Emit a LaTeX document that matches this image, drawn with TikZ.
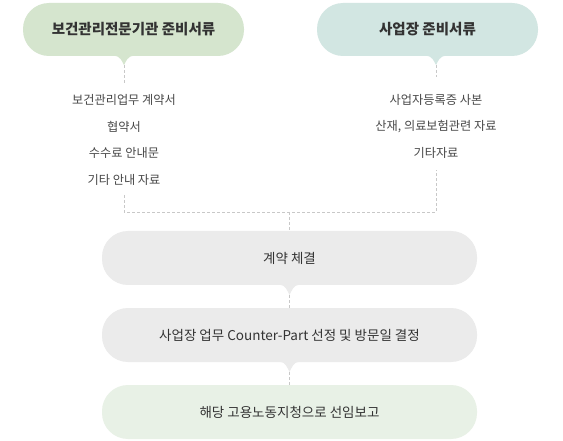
\documentclass[tikz,border=0pt]{standalone}
\usepackage{fontspec}
\setmainfont{Noto Sans CJK KR}
\usetikzlibrary{positioning}
\definecolor{pillA}{HTML}{D5E5CE}
\definecolor{pillB}{HTML}{D2E6E2}
\definecolor{pillG}{HTML}{EBEBEB}
\definecolor{pillE}{HTML}{E8F1E6}
\definecolor{titletxt}{HTML}{333333}
\definecolor{itemtxt}{HTML}{484848}
\definecolor{dashcol}{HTML}{C8C8C8}
\tikzset{
  pill/.style={rounded corners=26pt, minimum height=53pt, inner sep=0pt},
  toppill/.style={pill, minimum width=221pt, font=\fontsize{14.5}{16}\selectfont\bfseries, text=titletxt},
  steppill/.style={pill, minimum width=375pt, minimum height=54pt, font=\fontsize{13.5}{15}\selectfont, text=titletxt},
  itemtxtstyle/.style={font=\fontsize{12.2}{14}\selectfont, text=itemtxt, inner sep=2pt},
  dashline/.style={draw=dashcol, line width=0.8pt, dash pattern=on 3pt off 2pt},
}
\newcommand{\pointer}[4]{% x, y(bottom), color, depth
  \fill[#3] (#1-10,#2+0.5) .. controls (#1-4,#2) and (#1-2,#2-#4+4) .. (#1,#2-#4)
     .. controls (#1+2,#2-#4+4) and (#1+4,#2) .. (#1+10,#2+0.5) -- cycle;}
\begin{document}
\begin{tikzpicture}[x=1pt,y=1pt]
\useasboundingbox (0,0) rectangle (563,-441);
\fill[white] (0,0) rectangle (563,-441);

% top pills
\node[toppill, fill=pillA] (A) at (133.5,-29.5) {보건관리전문기관 준비서류};
\node[toppill, fill=pillB] (B) at (427.5,-29.5) {사업장 준비서류};
\pointer{124}{-56}{pillA}{9}
\pointer{436}{-56}{pillB}{9}
\coordinate (tA) at (124,-65);
\coordinate (tB) at (436,-65);

% item lists
\node[itemtxtstyle] (L1) at (124,-100) {보건관리업무 계약서};
\node[itemtxtstyle] (L2) at (124,-126.5) {협약서};
\node[itemtxtstyle] (L3) at (124,-153) {수수료 안내문};
\node[itemtxtstyle] (L4) at (124,-179.5) {기타 안내 자료};
\node[itemtxtstyle] (R1) at (436,-100) {사업자등록증 사본};
\node[itemtxtstyle] (R2) at (436,-126.5) {산재, 의료보험관련 자료};
\node[itemtxtstyle] (R3) at (436,-153) {기타자료};

% steps
\node[steppill, fill=pillG] (C) at (289.5,-258) {계약 체결};
\node[steppill, fill=pillG] (D) at (289.5,-335) {사업장 업무 Counter-Part 선정 및 방문일 결정};
\node[steppill, fill=pillE] (E) at (289.5,-412) {해당 고용노동지청으로 선임보고};
\pointer{289.5}{-285}{pillG}{10}
\pointer{289.5}{-362}{pillG}{10}
\coordinate (tC) at (289.5,-295);
\coordinate (tD) at (289.5,-372);

% junction
\coordinate (jL) at (124,-212);
\coordinate (jR) at (436,-212);
\coordinate (jM) at (289.5,-212);

% connectors
\draw[dashline] (tA) -- (124,-83);
\draw[dashline] (tB) -- (436,-77);
\draw[dashline] (124,-195) -- (jL) -- (jR) -- (436,-170);
\draw[dashline] (jM) -- (C.north);
\draw[dashline] (tC) -- (D.north);
\draw[dashline] (tD) -- (E.north);
\end{tikzpicture}
\end{document}
